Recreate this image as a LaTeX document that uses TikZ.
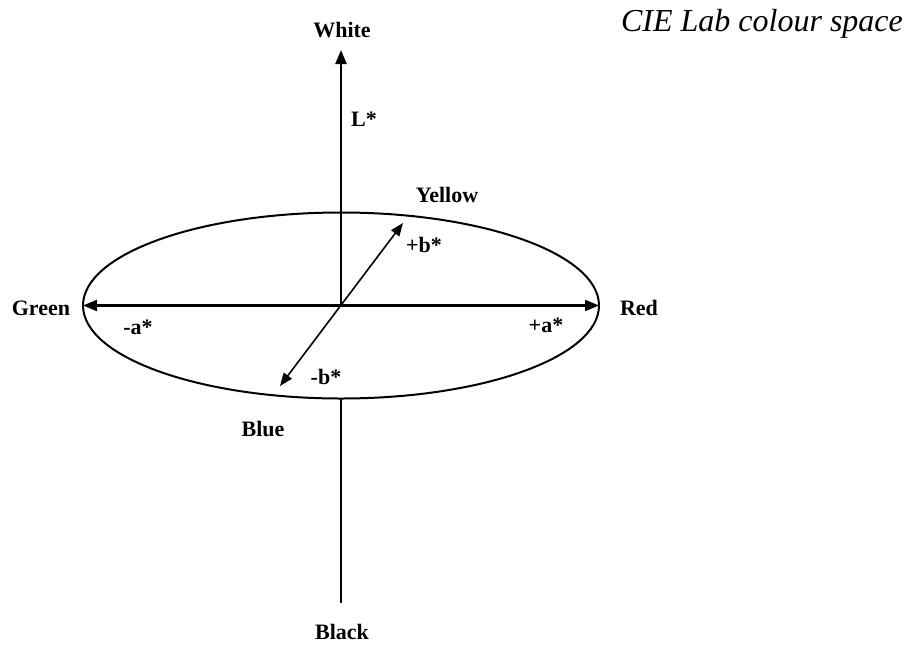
\documentclass[tikz,border=0pt]{standalone}
\usepackage{fontspec}
\setmainfont{Liberation Serif}
\usetikzlibrary{arrows.meta,shapes.geometric}
\begin{document}
\begin{tikzpicture}
[x=1pt, y=-1pt, >={Triangle[length=14pt, width=11pt]}, font=\fontsize{22}{26}\selectfont\bfseries]
\tikzstyle{axis}=[line width=2.2pt]
\tikzstyle{bline}=[line width=1.6pt, >={Triangle[length=13pt, width=10pt]}]
\tikzstyle{disc}=[ellipse, draw, line width=2pt, inner sep=0pt, outer sep=0pt, minimum width=516pt, minimum height=186pt]
\useasboundingbox (0,0) rectangle (905,646);

\node[disc]		(Lab)	at (341,305.5)	{};
\coordinate		(O)		at (341,305.5);
\coordinate		(Ltop)	at (341,50);
\coordinate		(Lbot)	at (341,603);
\coordinate		(bpos)	at (403,223);
\coordinate		(bneg)	at (280,386);

\node	(White)		at (342,30)		{White};
\node	(Black)		at (342,632)	{Black};
\node	(Green)		at (41,308)		{Green};
\node	(Red)		at (639,308)	{Red};
\node	(Yellow)	at (447,195)	{Yellow};
\node	(Blue)		at (263,429)	{Blue};
\node	(Lstar)		at (364,119)	{L*};
\node	(bplus)		at (424,245)	{+b*};
\node	(bminus)	at (326,377)	{-b*};
\node	(aminus)	at (138,327)	{-a*};
\node	(aplus)		at (546,325)	{+a*};
\node[font=\fontsize{32}{38}\selectfont\itshape]	(title)	at (762,24)	{CIE Lab colour space};

\draw [axis, ->] (O) -- (Ltop);
\draw [axis] (Lab.south) -- (Lbot);
\draw [axis, <->] (Lab.west) -- (Lab.east);
\draw [bline, <->] (bneg) -- (bpos);
\end{tikzpicture}
\end{document}
